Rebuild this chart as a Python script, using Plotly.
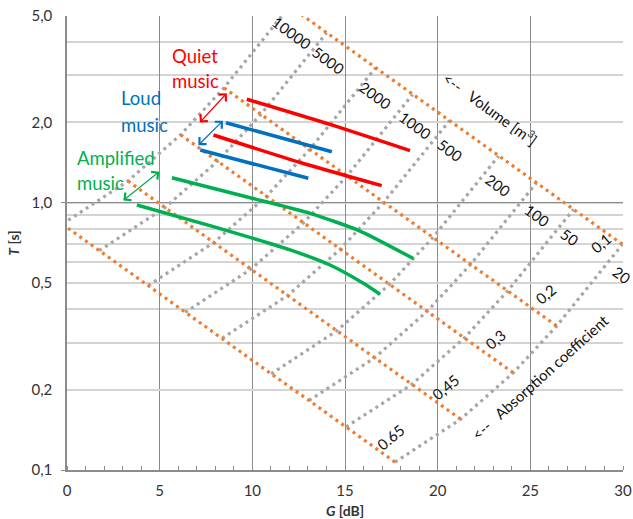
import math
import plotly.graph_objects as go

# ---------------- data ----------------
# design grid: absorption coefficient (columns) x room volume (rows)
alphas = [0.65, 0.45, 0.3, 0.2, 0.1]
alpha_text = ["0.65", "0,45", "0,3", "0,2", "0,1"]
volumes = [10000, 5000, 2000, 1000, 500, 200, 100, 50, 20]

# G [dB] at each grid intersection (row = volume, column = alpha)
grid_G = [
    [-0.25, 3.29, 6.13, 8.47, 12.02],     # 10000
    [1.74, 5.28, 8.12, 10.46, 14.01],     # 5000
    [4.38, 7.92, 10.76, 13.10, 16.65],    # 2000
    [6.38, 9.92, 12.76, 15.10, 18.65],    # 1000
    [8.37, 11.91, 14.75, 17.09, 20.64],   # 500
    [11.02, 14.56, 17.40, 19.74, 23.29],  # 200
    [13.06, 16.60, 19.44, 21.78, 25.33],  # 100
    [15.06, 18.60, 21.44, 23.78, 27.33],  # 50
    [17.70, 21.24, 24.08, 26.42, 29.97],  # 20
]
# T [s] at each grid intersection
grid_T = [
    [0.832, 1.206, 1.797, 2.692, 5.438],
    [0.662, 0.959, 1.430, 2.142, 4.327],
    [0.490, 0.710, 1.058, 1.585, 3.201],
    [0.389, 0.564, 0.841, 1.259, 2.544],
    [0.311, 0.450, 0.671, 1.005, 2.031],
    [0.229, 0.332, 0.495, 0.741, 1.497],
    [0.182, 0.263, 0.393, 0.588, 1.188],
    [0.145, 0.209, 0.312, 0.468, 0.945],
    [0.107, 0.155, 0.231, 0.346, 0.699],
]

# music ranges (upper and lower limit lines)
quiet_hi_G = [9.70, 14.19, 18.51]
quiet_hi_T = [2.44, 1.964, 1.567]
quiet_lo_G = [7.90, 12.58, 16.98]
quiet_lo_T = [1.793, 1.415, 1.159]
loud_hi_G = [8.57, 14.29]
loud_hi_T = [1.994, 1.553]
loud_lo_G = [7.19, 13.02]
loud_lo_T = [1.576, 1.235]
amp_hi_G = [5.66, 10.04, 13.12, 15.81, 18.68]
amp_hi_T = [1.241, 1.038, 0.913, 0.784, 0.619]
amp_lo_G = [3.77, 7.90, 12.04, 14.19, 15.99, 16.89]
amp_lo_T = [0.981, 0.814, 0.666, 0.585, 0.4995, 0.4545]

y_tick_vals = [0.1, 0.2, 0.5, 1, 2, 5]
y_tick_text = ["0,1", "0,2", "0,5", "1,0", "2,0", "5,0"]
y_minor_vals = [0.3, 0.4, 0.6, 0.7, 0.8, 0.9, 3, 4]
x_tick_vals = [0, 5, 10, 15, 20, 25, 30]

# label positions (G, T)
vol_label_pos = {10000: (12.15, 4.32), 5000: (14.09, 3.42), 2000: (16.62, 2.53),
                 1000: (18.78, 1.956), 500: (20.66, 1.576), 200: (23.25, 1.166),
                 100: (25.34, 0.900), 50: (27.13, 0.745), 20: (29.94, 0.537)}
alpha_label_pos = [(17.47, 0.1325), (20.43, 0.204), (23.13, 0.309),
                   (25.82, 0.456), (28.79, 0.710)]

# ---------------- styling ----------------
FONT = "Lato, 'Open Sans', sans-serif"
GRAY = "#A6A6A6"
ORANGE = "#ED7D31"
RED = "#FF0000"
BLUE = "#0070C0"
GREEN = "#00B050"
AXC = "#8C8C8C"
LIGHT = "#D4D4D4"
TXT = "#333333"

fig = go.Figure()

for i, v in enumerate(volumes):
    fig.add_trace(go.Scatter(x=grid_G[i], y=grid_T[i], mode="lines",
                             line=dict(color=GRAY, width=3.2, dash="3px,4px"),
                             hoverinfo="skip", showlegend=False))
for j, a in enumerate(alphas):
    fig.add_trace(go.Scatter(x=[row[j] for row in grid_G],
                             y=[row[j] for row in grid_T], mode="lines",
                             line=dict(color=ORANGE, width=3.2, dash="3px,4px"),
                             hoverinfo="skip", showlegend=False))

for gx, ty, col in [(quiet_hi_G, quiet_hi_T, RED), (quiet_lo_G, quiet_lo_T, RED),
                    (loud_hi_G, loud_hi_T, BLUE), (loud_lo_G, loud_lo_T, BLUE),
                    (amp_hi_G, amp_hi_T, GREEN), (amp_lo_G, amp_lo_T, GREEN)]:
    fig.add_trace(go.Scatter(x=gx, y=ty, mode="lines",
                             line=dict(color=col, width=3.5, shape="spline", smoothing=0.6),
                             hoverinfo="skip", showlegend=False))

# helper trace for the overlay axis (dark decade grid)
fig.add_trace(go.Scatter(x=[None], y=[None], yaxis="y2", showlegend=False, hoverinfo="skip"))

ann = []
L = math.log10
for v in volumes:
    g, t = vol_label_pos[v]
    ann.append(dict(x=g, y=L(t), xref="x", yref="y", text=str(v), showarrow=False,
                    textangle=36, font=dict(size=15, color="#111111", family=FONT)))
for (g, t), s in zip(alpha_label_pos, alpha_text):
    ann.append(dict(x=g, y=L(t), xref="x", yref="y", text=s, showarrow=False,
                    textangle=-40, font=dict(size=15, color="#111111", family=FONT)))

ann.append(dict(x=22.88, y=L(2.26), xref="x", yref="y", text="<--   Volume [m<sup>3</sup>]",
                showarrow=False, textangle=36, font=dict(size=15, color="#111111", family=FONT)))
ann.append(dict(x=25.52, y=L(0.223), xref="x", yref="y", text="<--   Absorption coefficient",
                showarrow=False, textangle=-42, font=dict(size=15, color="#111111", family=FONT)))

for txt, g, ly, col in [("Quiet", 5.57, 0.5505, RED), ("music", 5.57, 0.4547, RED),
                        ("Loud", 2.78, 0.3922, BLUE), ("music", 2.78, 0.2923, BLUE),
                        ("Amplified", 0.45, 0.1677, GREEN), ("music", 0.45, 0.0730, GREEN)]:
    ann.append(dict(x=g, y=ly, xref="x", yref="y", text=txt, showarrow=False,
                    xanchor="left", yanchor="middle",
                    font=dict(size=18.5, color=col, family=FONT)))

for (g0, l0, g1, l1, col) in [(7.09, 0.2949, 8.62, 0.4098, RED),
                              (7.01, 0.2100, 8.41, 0.3073, BLUE),
                              (2.96, 0.0041, 4.98, 0.1164, GREEN)]:
    ann.append(dict(x=g1, y=l1, ax=g0, ay=l0, xref="x", yref="y", axref="x", ayref="y",
                    text="", showarrow=True, arrowside="end+start", arrowhead=4,
                    startarrowhead=4, arrowsize=1.6, startarrowsize=1.6, arrowwidth=1.2,
                    arrowcolor=col, standoff=0, startstandoff=0))

fig.update_layout(
    width=633, height=519,
    margin=dict(l=67, r=10, t=16, b=49, autoexpand=False),
    paper_bgcolor="white", plot_bgcolor="white",
    font=dict(family=FONT, size=14, color=TXT),
    annotations=ann,
    xaxis=dict(range=[0, 30], tickvals=x_tick_vals, showgrid=True, gridcolor=AXC,
               gridwidth=1.3, showline=True, linecolor=AXC, linewidth=1.5, ticks="",
               zeroline=False, tickfont=dict(size=15, color=TXT),
               ticklabelstandoff=6, automargin=False,
               minor=dict(dtick=1, ticks="inside", ticklen=4, tickcolor=AXC,
                          tickwidth=1.2, showgrid=False),
               title=dict(text="<b><i>G</i> [dB]</b>", font=dict(size=14, color=TXT),
                          standoff=13)),
    yaxis=dict(type="log", range=[-1, math.log10(5)], tickvals=y_tick_vals,
               ticktext=y_tick_text, showgrid=True, gridcolor=LIGHT, gridwidth=1.6,
               showline=True, linecolor=AXC, linewidth=1.5, ticks="",
               tickfont=dict(size=15, color=TXT), ticklabelstandoff=10,
               automargin=False,
               minor=dict(tickvals=y_minor_vals, showgrid=True, gridcolor=LIGHT,
                          gridwidth=1.6, ticks=""),
               title=dict(text="<b><i>T</i> [s]</b>", font=dict(size=14, color=TXT),
                          standoff=9)),
    yaxis2=dict(type="log", range=[-1, math.log10(5)], overlaying="y", side="left",
                anchor="x", tickvals=[0.1, 1], showticklabels=False, ticks="outside",
                ticklen=5, tickcolor=AXC, tickwidth=1.3, showgrid=True, gridcolor=AXC,
                gridwidth=1.3, showline=False, zeroline=False, automargin=False),
)

fig.write_html("out.html", config={"displayModeBar": False},
               post_script="document.body.style.margin='0px';")
